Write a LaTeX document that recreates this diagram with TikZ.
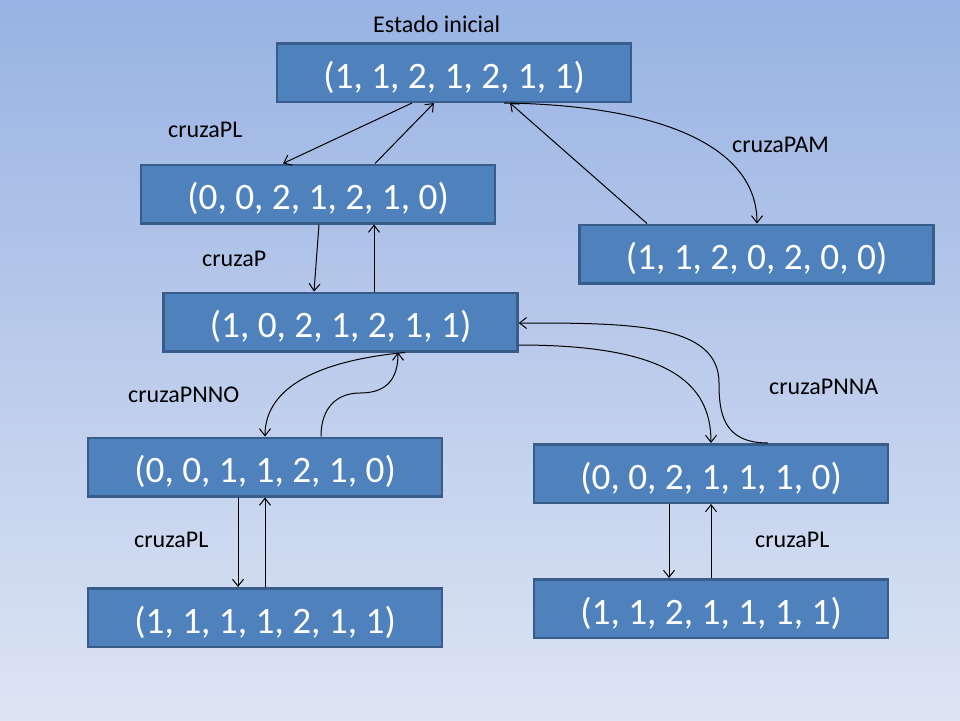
\documentclass[tikz,border=0pt]{standalone}
\usepackage{fontspec}
\setmainfont{Carlito}
\usetikzlibrary{arrows.meta}
\definecolor{bgtop}{HTML}{97B3E3}
\definecolor{bgmid}{HTML}{BBCBEB}
\definecolor{bgbot}{HTML}{DDE5F4}
\definecolor{boxfill}{HTML}{4F81BD}
\definecolor{boxline}{HTML}{385D8A}
\begin{document}
\begin{tikzpicture}[x=1pt,y=-1pt,
  statebox/.style={draw=boxline, line width=2.5pt, fill=boxfill, text=white,
    minimum width=354pt, minimum height=58.5pt, inner sep=0pt,
    text height=31pt, text depth=0pt,
    font=\fontsize{37.3pt}{40pt}\selectfont},
  lbl/.style={anchor=base west, inner sep=0pt, text=black,
    font=\fontsize{24pt}{28pt}\selectfont},
  conn/.style={draw=black, line width=1pt,
    -{Straight Barb[length=7pt,width=11pt]}}]
\shade[top color=bgtop, bottom color=bgbot, middle color=bgmid] (0,0) rectangle (960,720);
\useasboundingbox (0,0) rectangle (960,720);

\node[statebox] (b1) at (454,72.5) {(1, 1, 2, 1, 2, 1, 1)};
\node[statebox] (b2) at (318,194) {(0, 0, 2, 1, 2, 1, 0)};
\node[statebox] (b3) at (340.5,322) {(1, 0, 2, 1, 2, 1, 1)};
\node[statebox] (b4) at (756.5,254) {(1, 1, 2, 0, 2, 0, 0)};
\node[statebox] (b5) at (265,467) {(0, 0, 1, 1, 2, 1, 0)};
\node[statebox] (b6) at (265,617.5) {(1, 1, 1, 1, 2, 1, 1)};
\node[statebox] (b7) at (711,473.5) {(0, 0, 2, 1, 1, 1, 0)};
\node[statebox] (b8) at (711,608.5) {(1, 1, 2, 1, 1, 1, 1)};

\node[lbl] (l0) at (373,32) {Estado inicial};
\node[lbl] (l1) at (168,137) {cruzaPL};
\node[lbl] (l2) at (202,266) {cruzaP};
\node[lbl] (l3) at (732,152) {cruzaPAM};
\node[lbl] (l4) at (128,402) {cruzaPNNO};
\node[lbl] (l5) at (769,394) {cruzaPNNA};
\node[lbl] (l6) at (134,547) {cruzaPL};
\node[lbl] (l7) at (755,547) {cruzaPL};

% top level
\draw[conn] ([xshift=-42pt]b1.south) -- ([xshift=-35pt]b2.north);
\draw[conn] ([xshift=57pt]b2.north) -- ([xshift=-20pt]b1.south);
\draw[conn] ([xshift=-109.5pt]b4.north) -- ([xshift=56pt]b1.south);
\draw[conn] ([xshift=50pt]b1.south) .. controls +(150,2) and +(0,-80) .. ([xshift=0.5pt]b4.north);

% b2 <-> b3
\draw[conn] ([xshift=1pt]b2.south) -- ([xshift=-26.5pt]b3.north);
\draw[conn] ([xshift=33.5pt]b3.north) -- ([xshift=56pt]b2.south);

% b3 <-> b7
\draw[conn] ([yshift=-23pt]b3.east) .. controls +(150,0) and +(0,-60) .. (b7.north);
\coordinate (m1) at (719,383);
\draw[conn] ([xshift=57pt]b7.north) .. controls +(-45,0) and +(0,30) .. (m1)
  .. controls +(0,-60) and +(110,0) .. ([yshift=-1pt]b3.east);

% b3 <-> b5
\draw[conn] ([xshift=64.5pt]b3.south) .. controls +(-85,8) and +(0,-50) .. (b5.north);
\coordinate (m2) at (360,393);
\draw[conn] ([xshift=56pt]b5.north) .. controls +(0,-30) and +(-22,0) .. (m2)
  .. controls +(28,0) and +(0,25) .. ([xshift=57.5pt]b3.south);

% b5 <-> b6
\draw[conn] ([xshift=-27pt]b5.south) -- ([xshift=-27pt]b6.north);
\draw[conn] (b6.north) -- (b5.south);

% b7 <-> b8
\draw[conn] ([xshift=-42pt]b7.south) -- ([xshift=-42pt]b8.north);
\draw[conn] (b8.north) -- (b7.south);
\end{tikzpicture}
\end{document}
